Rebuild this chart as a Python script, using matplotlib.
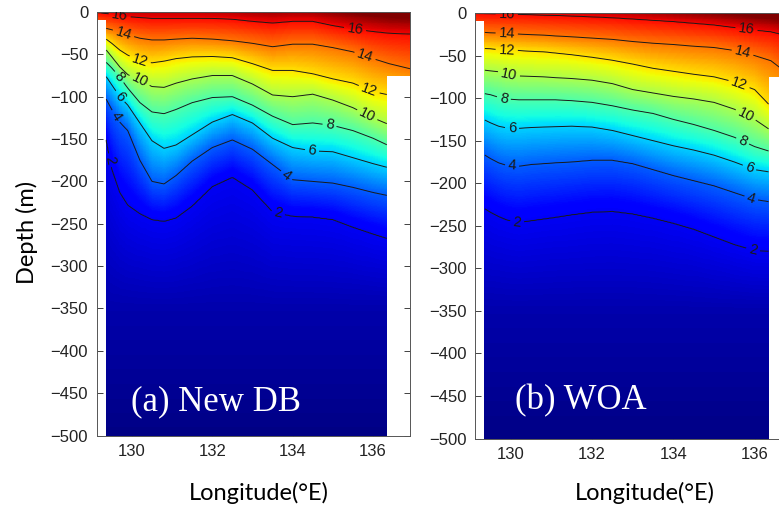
#!/usr/bin/env python3
"""Temperature sections (New DB vs WOA) with labelled isotherms."""
import numpy as np
import matplotlib
matplotlib.use("Agg")
import matplotlib.pyplot as plt

lon_pts = [129.12, 129.33, 129.5, 129.7, 129.9, 130.2, 130.5, 130.8, 131.1, 131.5,
           132.0, 132.5, 133.0, 133.5, 134.0, 134.5, 135.0, 135.5, 136.0, 136.4, 136.92]
iso_levels = [16, 14, 12, 10, 8, 6, 4, 2]

# depth (m) of each isotherm, one row per level in iso_levels
newdb_iso = [
    [-0.5, -1.5, -2.5, -4, -5.5, -6.5, -7.5, -7.5, -7.5, -7.5, -7.5, -8.5, -11, -13, -11, -11, -16, -20, -23, -25, -26],
    [-15, -19, -21, -24, -27, -31, -33, -33, -32, -31, -32, -34, -37, -41, -38, -38, -42, -47, -55, -61, -67],
    [-28, -31, -37, -45, -51, -57, -60, -58, -55, -53, -52.5, -54, -61, -69, -69, -73, -79, -84, -94, -98, -103],
    [-35, -43, -53, -65, -74, -81, -88, -89, -84, -79, -75, -75, -85, -98, -100, -97, -104, -113, -125, -133, -140],
    [-50, -58, -66, -77, -90, -107, -118, -120, -115, -107, -101, -100, -110, -123, -133, -131, -134, -140, -149, -158, -165],
    [-65, -74, -86, -100, -110, -131, -152, -161, -157, -145, -130, -121, -131, -149, -160, -164, -165, -172, -179, -184, -188],
    [-90, -100, -115, -130, -140, -175, -200, -203, -193, -176, -160, -151, -162, -180, -198, -200, -202, -207, -213, -217, -220],
    [-130, -143, -185, -213, -228, -238, -245, -247, -243, -229, -206, -195, -210, -236, -241, -242, -245, -254, -262, -268, -272],
]
woa_iso = [
    [-0.5, -0.6, -0.8, -1, -1.2, -1.5, -2, -2.5, -2.8, -3.5, -4.5, -5.5, -7, -8.5, -10, -12, -14, -17, -20, -22, -28],
    [-21, -22.7, -23.3, -23.6, -24, -24.8, -25.5, -26, -27, -28, -29.5, -31, -33.5, -35.5, -37, -39, -40.5, -44, -50, -56, -75],
    [-41, -41.6, -42, -43, -43.5, -44, -45, -45.5, -47, -49, -52, -55.5, -60, -65, -68.5, -72, -75, -81, -90, -110, -115],
    [-66, -67, -68, -69, -72, -74, -74.5, -75, -76, -77, -79, -83, -90, -94, -98, -101, -105, -113, -125, -138, -145],
    [-93, -94.5, -96, -99, -101, -102, -102, -102, -102, -103, -105, -109, -114, -118, -125, -131, -138, -146, -157, -163, -168],
    [-122, -125, -129, -133, -135, -135.5, -134.5, -134, -133.5, -133, -134, -138, -144, -150, -156, -161, -167, -175, -184, -187, -190],
    [-163, -166, -171, -176, -179, -180, -178, -177, -176, -175, -173, -173, -177, -184, -191, -197, -203, -211, -219, -222, -224],
    [-222, -229, -234, -239, -243, -246, -244, -242, -240, -237, -234, -233, -236, -241, -247, -254, -263, -272, -279, -280, -282],
]
newdb_surface = [16.3, 16.4, 16.5, 16.6, 16.7, 16.8, 16.8, 16.8, 16.8, 16.8, 16.9, 17.0,
                 17.2, 17.3, 17.2, 17.3, 17.6, 17.9, 18.2, 18.4, 18.5]
woa_surface = [16.1, 16.1, 16.1, 16.2, 16.2, 16.2, 16.3, 16.3, 16.4, 16.5, 16.6, 16.8,
               17.0, 17.2, 17.4, 17.6, 17.8, 18.0, 18.3, 18.5, 18.8]
deep_depth = [-350, -500]
deep_temp = [0.9, 0.3]

# extent of valid data (outside -> blank)
data_lon = (129.35, 136.35)
top_left_depth = -9.5
top_right_depth = -75

newdb_labels = [(129.7, -3), (135.55, -21), (129.8, -24), (135.8, -52),
                (130.2, -57), (135.9, -92), (130.2, -80), (135.85, -122),
                (129.68, -77), (134.92, -133), (129.7, -100), (134.48, -164),
                (129.6, -123), (133.8, -196), (129.48, -175), (133.63, -239)]
woa_labels = [(129.9, -1.5), (135.8, -19), (129.9, -24), (135.7, -47),
              (129.9, -43.5), (135.62, -83), (129.95, -73), (135.78, -120),
              (129.83, -100), (135.7, -151), (130.03, -135), (135.87, -182),
              (130.03, -180), (135.9, -220), (130.15, -247), (135.95, -280)]

XLIM = (129.12, 136.92)


def build_field(iso, surface):
    lon_g = np.linspace(XLIM[0], XLIM[1], 420)
    dep_g = np.linspace(0, -500, 501)
    iso_g = np.array([np.interp(lon_g, lon_pts, row) for row in iso])
    surf_g = np.interp(lon_g, lon_pts, surface)
    T = np.empty((dep_g.size, lon_g.size))
    for j in range(lon_g.size):
        z = np.concatenate([[0.0], iso_g[:, j], deep_depth])
        t = np.concatenate([[surf_g[j]], iso_levels, deep_temp])
        T[:, j] = np.interp(-dep_g, -z, t)
    LON, DEP = np.meshgrid(lon_g, dep_g)
    mask = ((LON < data_lon[0]) & (DEP < top_left_depth)) | \
           ((LON > data_lon[1]) & (DEP < top_right_depth))
    return lon_g, dep_g, np.ma.masked_array(T, mask)


def panel(ax, iso, surface, labels, title, title_pos):
    lon_g, dep_g, T = build_field(iso, surface)
    ax.pcolormesh(lon_g, dep_g, T, cmap="jet", vmin=0.2, vmax=17.8,
                  shading="auto", rasterized=True, zorder=2)
    cs = ax.contour(lon_g, dep_g, T, levels=sorted(iso_levels), colors="#1a1a1a",
                    linewidths=0.7, zorder=2.1)
    ax.clabel(cs, fmt="%d", fontsize=10.5, inline=True, inline_spacing=3,
              manual=labels)
    ax.text(title_pos[0], title_pos[1], title, color="white", fontsize=25,
            family="Liberation Serif", va="baseline", zorder=3)
    ax.set_xlim(*XLIM)
    ax.set_ylim(-500, 0)
    ax.set_xticks([130, 132, 134, 136])
    ax.set_yticks(np.arange(-500, 1, 50))
    ax.tick_params(direction="in", top=True, right=True, length=4, width=0.6,
                   labelsize=12, colors="#222222", pad=6)
    for s in ax.spines.values():
        s.set_linewidth(0.7)
        s.set_color("#555555")


plt.rcParams["font.family"] = ["Liberation Sans", "DejaVu Sans"]
fig = plt.figure(figsize=(7.79, 5.08), dpi=100)
ax1 = fig.add_axes([0.1239, 0.1427, 0.4024, 0.8337])
ax2 = fig.add_axes([0.6098, 0.1368, 0.4069, 0.8376])

panel(ax1, newdb_iso, newdb_surface, newdb_labels, "(a) New DB", (129.98, -470))
panel(ax2, woa_iso, woa_surface, woa_labels, "(b) WOA", (130.1, -466))

fig.text(27 / 779, 1 - 232 / 508, "Depth (m)", rotation=90, ha="center",
         va="center", fontsize=17, family="Lato")
fig.text(259 / 779, 1 - 493 / 508, "Longitude(°E)", ha="center", va="center",
         fontsize=17, family="Lato")
fig.text(645 / 779, 1 - 493 / 508, "Longitude(°E)", ha="center", va="center",
         fontsize=17, family="Lato")

fig.savefig("out.png", dpi=100)
